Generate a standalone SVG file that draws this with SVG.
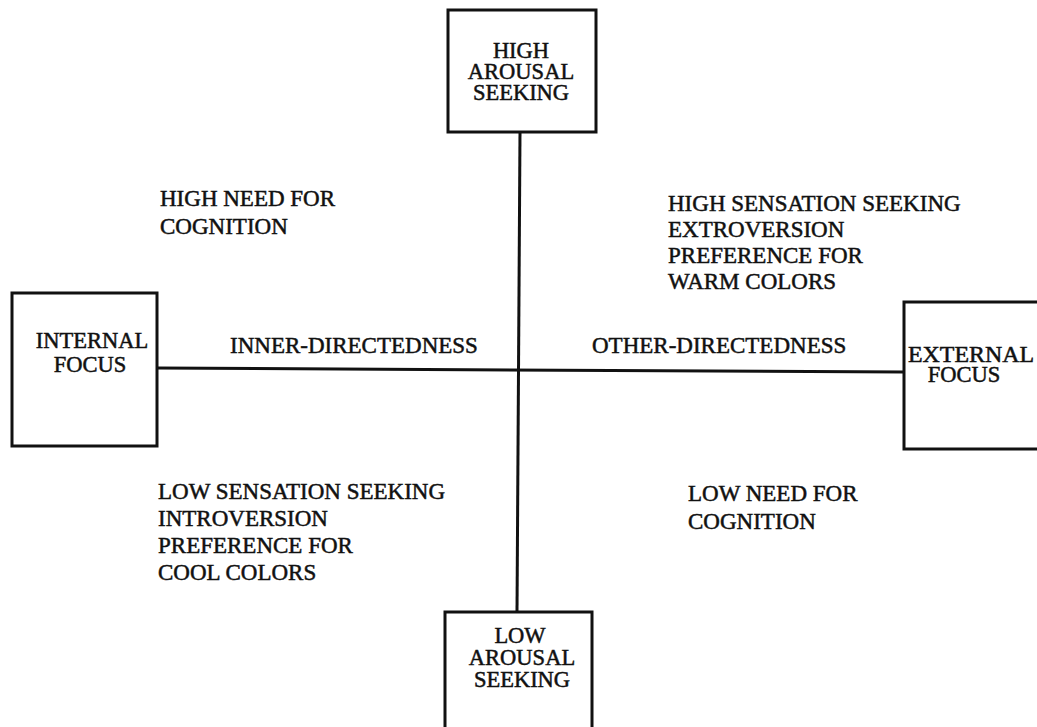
<svg xmlns="http://www.w3.org/2000/svg" width="1037" height="727" viewBox="0 0 1037 727">
  <style>
    .box { fill: #fff; stroke: #111; stroke-width: 3; }
    .axis { fill: none; stroke: #111; stroke-width: 3; }
    text { font-family: "Liberation Serif", "Times New Roman", serif; font-size: 23px; fill: #111; stroke: #111; stroke-width: 0.5; }
    .c { text-anchor: middle; font-size: 22.5px; }
  </style>
  <rect width="1037" height="727" fill="#fff"/>

  <!-- axes -->
  <g id="connectors">
    <line class="axis" x1="520" y1="132" x2="517" y2="612"/>
    <line class="axis" x1="157" y1="368" x2="904" y2="372"/>
  </g>

  <g id="high-arousal">
    <rect class="box" x="448" y="10" width="148" height="122"/>
    <text class="c" x="521" y="58">HIGH</text>
    <text class="c" x="521" y="79">AROUSAL</text>
    <text class="c" x="521" y="100">SEEKING</text>
  </g>

  <g id="internal-focus">
    <rect class="box" x="12" y="293" width="145" height="153"/>
    <text class="c" x="92" y="348">INTERNAL</text>
    <text class="c" x="90" y="372">FOCUS</text>
  </g>

  <g id="external-focus">
    <rect class="box" x="904" y="302" width="150" height="147"/>
    <text class="c" x="971" y="362" textLength="126" lengthAdjust="spacingAndGlyphs">EXTERNAL</text>
    <text class="c" x="964" y="382">FOCUS</text>
  </g>

  <g id="low-arousal">
    <rect class="box" x="445" y="612" width="147" height="130"/>
    <text class="c" x="520" y="643">LOW</text>
    <text class="c" x="522" y="665">AROUSAL</text>
    <text class="c" x="522" y="687">SEEKING</text>
  </g>

  <!-- axis labels -->
  <g id="axis-labels">
    <text x="230" y="353">INNER-DIRECTEDNESS</text>
    <text x="592" y="353">OTHER-DIRECTEDNESS</text>
  </g>

  <!-- quadrant descriptions -->
  <g id="quadrant-top-left">
    <text x="160" y="206">HIGH NEED FOR</text>
    <text x="160" y="234">COGNITION</text>
  </g>

  <g id="quadrant-top-right">
    <text x="668" y="211">HIGH SENSATION SEEKING</text>
    <text x="668" y="237">EXTROVERSION</text>
    <text x="668" y="263">PREFERENCE FOR</text>
    <text x="668" y="289">WARM COLORS</text>
  </g>

  <g id="quadrant-bottom-left">
    <text x="158" y="499">LOW SENSATION SEEKING</text>
    <text x="158" y="526">INTROVERSION</text>
    <text x="158" y="553">PREFERENCE FOR</text>
    <text x="158" y="580">COOL COLORS</text>
  </g>

  <g id="quadrant-bottom-right">
    <text x="688" y="501">LOW NEED FOR</text>
    <text x="688" y="529">COGNITION</text>
  </g>
</svg>
